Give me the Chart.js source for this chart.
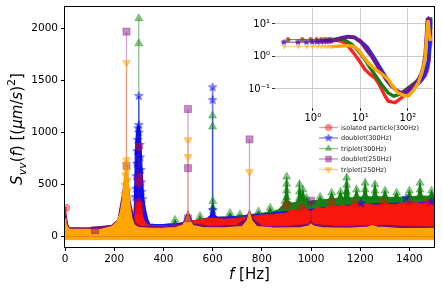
<!DOCTYPE html>
<html><head><meta charset="utf-8">
<script src="https://cdn.jsdelivr.net/npm/chart.js@4/dist/chart.umd.min.js"></script>
<style>
html,body{margin:0;padding:0;background:#fff;}
#wrap{position:relative;width:442px;height:293px;overflow:hidden;font-family:"DejaVu Sans";}
#main{position:absolute;left:0;top:0;}
#inset{position:absolute;left:250px;top:0;}
#xlab{position:absolute;left:0;width:499px;top:265px;text-align:center;font-size:15px;color:#000;white-space:nowrap;}
#ylab{position:absolute;left:17px;top:129px;width:260px;margin-left:-130px;margin-top:-12px;height:24px;line-height:24px;text-align:center;font-size:15px;transform:rotate(-90deg);white-space:nowrap;color:#000;}
#ylab sub{font-size:11px;vertical-align:-4px;line-height:0;}
#ylab sup{font-size:11px;vertical-align:7px;line-height:0;}
</style></head>
<body>
<div id="wrap">
<canvas id="main" width="442" height="293"></canvas>
<canvas id="inset" width="190" height="130"></canvas>
<div id="xlab"><i>f</i> [Hz]</div>
<div id="ylab"><i>S</i><sub><i>vv</i></sub>(<i>f</i>) [(<i>μm</i>/<i>s</i>)<sup>2</sup>]</div>
</div>
<script>
// ---------------- main chart data ----------------
const xTicks = [0,200,400,600,800,1000,1200,1400];
const yTicks = [0,500,1000,1500,2000];
const seriesNames = ['isolated particle(300Hz)','doublet(300Hz)','triplet(300Hz)','doublet(250Hz)','triplet(250Hz)'];

// triplet(250Hz) dense band (orange)
const fTri250 = [0,4,10,20,50,100,150,190,210,225,235,242,247,250,253,258,264,272,282,300,350,400,450,480,492,500,508,520,560,650,720,740,750,760,780,850,950,990,1000,1010,1050,1150,1230,1250,1270,1350,1450,1500];
const tri250Hi = [170,130,90,72,68,68,72,95,140,230,380,560,700,735,680,480,300,170,110,85,78,80,85,110,170,225,160,105,85,82,95,150,235,150,95,80,82,100,120,100,82,78,90,105,90,78,75,78];
const tri250Lo = -30;
// doublet(250Hz) dense band (purple)
const fDbl250 = [0,4,10,20,100,190,215,235,250,265,285,300,400,480,500,520,600,700,735,750,765,800,900,990,1000,1010,1100,1200,1300,1400,1500];
const dbl250Hi = [200,160,100,84,82,108,160,420,690,330,130,100,95,125,240,120,96,108,165,250,165,98,96,115,140,115,95,100,108,92,92];
// isolated particle(300Hz) dense band (red)
const fIso = [0,3,8,15,30,100,200,260,276,284,290,295,300,305,310,316,324,334,345,370,420,470,520,560,600,650,700,750,800,850,900,925,950,975,1000,1025,1050,1075,1100,1125,1150,1175,1200,1225,1250,1275,1300,1325,1350,1375,1400,1425,1450,1475,1500];
const isoHi = [285,240,130,70,55,50,55,70,110,180,260,310,330,320,260,190,140,115,105,100,105,115,150,165,175,165,175,190,205,210,225,260,245,270,240,280,265,295,285,300,290,310,300,315,305,300,320,305,310,320,310,325,315,320,320];
// doublet(300Hz) dense band (blue)
const fDbl300 = [0,10,20,200,270,278,282,286,290,294,298,302,306,310,315,320,328,336,345,380,450,520,580,592,600,608,620,700,800,900,1000,1100,1200,1300,1400,1500];
const dbl300Hi = [250,120,60,60,90,130,300,820,980,1040,1070,1050,1000,820,560,360,250,165,120,112,122,150,178,205,255,205,185,192,215,240,262,290,310,318,322,328];
// triplet(300Hz) dense band (green)
const fTri300 = [0,10,20,250,270,285,295,300,305,315,330,
  350,400,440,447,454,500,540,549,556,590,601,612,660,671,680,700,711,720,760,780,787,795,825,834,842,870,
  885,894,901,908,925,940,948,953,960,967,975,982,990,1010,1030,1037,1045,1060,1075,1084,1093,1110,1120,1128,1135,1145,1155,1170,1178,1185,1192,1205,1212,1220,1228,1245,1252,1260,1268,1285,1293,1301,1309,1325,1340,1348,1356,1375,1392,1400,1408,1425,1435,1443,1451,1470,1482,1490,1500];
const tri300Hi = [240,110,60,60,80,200,500,600,500,200,130,
  110,115,125,160,125,130,150,195,155,170,340,185,185,225,190,195,210,198,210,220,240,218,235,275,238,260,
  300,340,575,340,320,330,360,500,370,450,345,370,335,345,345,380,350,355,360,420,360,370,430,370,375,565,375,370,380,450,380,380,385,515,385,380,385,500,385,380,385,440,380,375,380,420,375,380,380,440,380,385,390,515,390,385,390,440,390];

// isolated markers + spike
const isoMarkF = [300,300,300,298,302,296,304,4,901,960,1086,1180,1294,1400,1470];
const isoMarkV = [863,572,514,330,300,270,250,275,303,280,330,320,330,320,325];
const isoSpikeF = [300], isoSpikeLo = [330], isoSpikeHi = [863];
// doublet(300Hz)
const dbl300MarkF = [300,300,297,301,295,304,293,306,291,308,289,310,288,312,286,315,600,600,600,1204,1386,1490];
const dbl300MarkV = [1351,1072,1040,1000,930,880,820,760,700,640,580,520,460,430,380,360,1435,1312,255,320,370,335];
const dbl300SpikeF = [300,600], dbl300SpikeLo = [1060,255], dbl300SpikeHi = [1351,1435];
// triplet(300Hz)
const tri300MarkF = [300,300,600,600,447,549,601,601,671,711,787,834,894,901,901,901,901,953,953,953,967,967,982,1037,1084,1084,1120,1120,1145,1145,1145,1145,1185,1185,1220,1220,1220,1260,1260,1260,1301,1301,1348,1348,1400,1400,1443,1443,1443,1490,1490];
const tri300MarkV = [2098,1857,1162,1056,160,195,340,275,225,210,240,275,340,575,505,440,375,500,430,370,450,390,370,380,420,370,430,375,565,495,430,375,450,390,515,450,390,500,440,385,440,385,420,370,440,385,515,450,390,440,385];
const tri300SpikeF = [300,600], tri300SpikeLo = [600,335], tri300SpikeHi = [2098,1162];
// doublet(250Hz)
const dbl250MarkF = [250,250,500,500,500,750,1000,122];
const dbl250MarkV = [1970,680,1226,657,175,934,344,60];
const dbl250SpikeF = [250,500,750,1000], dbl250SpikeLo = [690,240,250,140], dbl250SpikeHi = [1970,1226,934,344];
// triplet(250Hz)
const tri250MarkF = [250,250,248,252,246,254,244,256,242,258,500,500,750];
const tri250MarkV = [1671,735,690,640,590,540,490,440,400,360,928,766,623];
const tri250SpikeF = [250,500,750], tri250SpikeLo = [735,225,235], tri250SpikeHi = [1671,928,623];

// ---------------- inset data (log-log) ----------------
const insetXTicks = [1,10,100];
const insetYTicks = [0.1,1,10];
const fIsoIn = [0.3,0.6,0.9,1.2,1.5,1.8,2.1,2.4,2.7,3.0,3.6,4.7,6,7.6,10,12.4,16,20,24,28,33,38.5,45,53,63,73,100,140,180,228,260,280,292,300];
const isoIn  = [3.3,3.3,3.3,3.3,3.3,3.3,3.3,3.3,3.25,3.2,3.05,2.64,1.8,1.15,0.65,0.4,0.28,0.22,0.15,0.097,0.06,0.042,0.04,0.038,0.045,0.054,0.08,0.12,0.17,0.25,0.4,0.8,2.5,8];
const fTri300In = [0.3,0.6,0.9,1.2,1.5,1.8,2.1,2.4,2.7,3.0,3.6,4.5,6.5,9,12.4,16,20,24,28,33,38.5,50,70,101,150,194,240,268,285,295,300];
const tri300In  = [3.3,3.3,3.3,3.3,3.3,3.3,3.3,3.35,3.4,3.4,3.45,3.3,2.4,1.5,0.81,0.45,0.28,0.19,0.137,0.1,0.076,0.06,0.07,0.109,0.17,0.25,0.45,0.64,2,8,16];
const fDbl300In = [0.244,0.488,0.732,0.977,1.221,1.465,1.709,1.953,2.197,2.441,3,4,5.5,7.5,10,14,20,28,35,45,55,70,90,120,160,200,240,270,290,300];
const dbl300In  = [2.75,2.75,2.75,2.8,2.8,2.85,2.9,2.9,2.95,3.0,3.3,3.8,4.1,3.9,3.0,1.9,0.85,0.38,0.22,0.13,0.095,0.075,0.08,0.1,0.14,0.2,0.35,0.8,3,14];
const fDbl250In = [0.244,0.488,0.732,0.977,1.221,1.465,1.709,1.953,2.197,2.441,3,4,5.5,7.5,10.6,13,17,22,28,35,45,58,72,90,120,145,165,190,210,230,245,255,270,285,300];
const dbl250In  = [2.75,2.75,2.75,2.8,2.8,2.85,2.85,2.9,2.95,3.0,3.2,3.6,4.0,3.8,2.6,1.7,1.02,0.55,0.31,0.19,0.122,0.09,0.076,0.09,0.12,0.15,0.196,0.3,0.5,1.2,5,14,15,14,13];
const fTri250In = [0.25,0.5,0.75,1.0,1.25,1.5,1.75,2.0,2.25,2.5,3,4,5.5,7,9,11.5,14.6,18.5,23.7,30,38.5,48,62,80,101,130,165,200,230,250,265,280,300];
const tri250In  = [2.0,2.0,2.0,2.0,2.0,2.0,2.0,2.0,2.0,2.0,2.05,2.1,2.15,2.05,1.64,1.0,0.64,0.45,0.35,0.27,0.196,0.12,0.076,0.065,0.06,0.09,0.155,0.35,0.9,5,13,5,3];

// ---------------- styles ----------------
const C = {
  red:['rgb(250,22,10)','rgba(255,0,0,0.4)'],
  blue:['rgb(20,20,250)','rgba(0,0,255,0.5)'],
  green:['rgb(25,128,25)','rgba(0,128,0,0.45)'],
  purple:['rgb(120,10,125)','rgba(128,0,128,0.45)'],
  orange:['rgb(255,165,0)','rgba(255,165,0,0.55)']
};
function starImg(color, r){
  const s = Math.ceil(2*r+2), c = document.createElement('canvas');
  c.width = c.height = s; const g = c.getContext('2d');
  g.beginPath();
  for(let i=0;i<10;i++){const a=-Math.PI/2+i*Math.PI/5, rr=i%2?r*0.42:r; g.lineTo(s/2+rr*Math.cos(a), s/2+rr*Math.sin(a));}
  g.closePath(); g.fillStyle=color; g.fill(); g.strokeStyle=color; g.lineWidth=0.7; g.stroke();
  return c;
}
const starMain = starImg(C.blue[1], 4.6);
const starSmall = starImg(C.blue[1], 3);
const starLeg = starImg(C.blue[1], 4);

const pts = (fs, vs) => fs.map((f,i)=>({x:f, y:vs[i]}));
function spikeData(fs, lo, hi){ const d=[]; fs.forEach((f,i)=>{d.push({x:f,y:lo[i]},{x:f,y:hi[i]},{x:f,y:null});}); return d; }
function band(fs, hi, col, order){ return {type:'line', data:pts(fs,hi), borderColor:col, backgroundColor:col, borderWidth:1.2, pointRadius:0, fill:'origin', order, tension:0}; }
function spike(fs, lo, hi, col, order, w){ return {type:'line', data:spikeData(fs,lo,hi), borderColor:col, borderWidth:w||1.3, pointRadius:0, fill:false, spanGaps:false, order}; }
function marks(fs, vs, col, style, r, order, rot){ return {type:'scatter', data:pts(fs,vs), showLine:false, pointStyle:style, pointRadius:r, rotation:rot||0, pointBackgroundColor:col, pointBorderColor:col, pointBorderWidth:0.8, order}; }

const mainDatasets = [
  band(fTri300, tri300Hi, C.green[0], 90),
  band(fDbl300, dbl300Hi, C.blue[0], 80),
  band(fIso, isoHi, C.red[0], 70),
  band(fDbl250, dbl250Hi, C.purple[0], 60),
  band(fTri250, tri250Hi, C.orange[0], 50),
  {type:'line', data:fTri250.map(f=>({x:f,y:tri250Lo})), borderColor:C.orange[0], backgroundColor:C.orange[0], borderWidth:1, pointRadius:0, fill:'origin', order:50},
  spike(tri300SpikeF, tri300SpikeLo, tri300SpikeHi, 'rgba(0,128,0,0.45)', 40),
  spike(dbl300SpikeF, dbl300SpikeLo, dbl300SpikeHi, 'rgba(0,0,255,0.55)', 39, 1.6),
  spike(isoSpikeF, isoSpikeLo, isoSpikeHi, 'rgba(255,0,0,0.4)', 38, 1.6),
  spike(dbl250SpikeF, dbl250SpikeLo, dbl250SpikeHi, 'rgba(128,0,128,0.35)', 37),
  spike(tri250SpikeF, tri250SpikeLo, tri250SpikeHi, 'rgba(255,140,60,0.55)', 36),
  marks(tri300MarkF, tri300MarkV, C.green[1], 'triangle', 4.6, 20),
  marks(dbl300MarkF, dbl300MarkV, C.blue[1], starMain, 4, 19),
  marks(isoMarkF, isoMarkV, C.red[1], 'circle', 3.8, 18),
  marks(dbl250MarkF, dbl250MarkV, C.purple[1], 'rect', 5, 17),
  marks(tri250MarkF, tri250MarkV, C.orange[1], 'triangle', 4.6, 16, 180)
];

const legendItems = [
  {label:seriesNames[0], col:C.red[1], style:'circle', r:3.2},
  {label:seriesNames[1], col:C.blue[1], style:starLeg, r:3},
  {label:seriesNames[2], col:C.green[1], style:'triangle', r:3.6},
  {label:seriesNames[3], col:C.purple[1], style:'rect', r:4},
  {label:seriesNames[4], col:C.orange[1], style:'triangle', r:3.6, rot:180}
];

Chart.defaults.font.family = '"DejaVu Sans"';
Chart.defaults.color = '#000';

const framePlugin = {
  id:'frame',
  afterDraw(chart){
    const {ctx, chartArea:a} = chart;
    ctx.save(); ctx.strokeStyle='#000'; ctx.lineWidth=1;
    ctx.strokeRect(Math.round(a.left)-0.5, Math.round(a.top)-0.5, Math.round(a.right-a.left)+1, Math.round(a.bottom-a.top)+1);
    ctx.font = '6.5px "DejaVu Sans"'; ctx.textBaseline='middle'; ctx.textAlign='left';
    legendItems.forEach((it,i)=>{
      const y = 127.5 + i*10.5;
      ctx.strokeStyle = it.col; ctx.lineWidth = 1.3;
      ctx.beginPath(); ctx.moveTo(319,y); ctx.lineTo(338,y); ctx.stroke();
      ctx.fillStyle = it.col; ctx.strokeStyle = it.col; ctx.lineWidth=0.8;
      Chart.helpers.drawPoint(ctx, {pointStyle:it.style, radius:it.r, rotation:it.rot||0, borderWidth:0.8}, 328.5, y);
      ctx.fillStyle = '#222';
      ctx.fillText(it.label, 341, y+0.5);
    });
    ctx.restore();
  }
};

new Chart(document.getElementById('main'), {
  type:'line',
  data:{datasets:mainDatasets},
  options:{
    responsive:false, animation:false, events:[],
    layout:{padding:{left:0, top:7, right:8, bottom:0}},
    plugins:{legend:{display:false}, tooltip:{enabled:false}},
    scales:{
      x:{type:'linear', min:0, max:1500,
         afterBuildTicks:s=>{s.ticks = xTicks.map(v=>({value:v}));},
         afterFit:s=>{s.height=46; s.paddingLeft=0; s.paddingRight=0;},
         ticks:{font:{size:10.5}, color:'#000', padding:2, maxRotation:0, autoSkip:false, callback:v=>String(v)},
         grid:{display:true, drawOnChartArea:false, drawTicks:true, tickLength:4, color:'#000'},
         border:{display:false}},
      y:{type:'linear', min:-101, max:2207,
         afterBuildTicks:s=>{s.ticks = yTicks.map(v=>({value:v}));},
         afterFit:s=>{s.width=65; s.paddingTop=0; s.paddingBottom=0;},
         ticks:{font:{size:10.5}, color:'#000', padding:3, autoSkip:false, callback:v=>String(v)},
         grid:{display:true, drawOnChartArea:false, drawTicks:true, tickLength:4, color:'#000'},
         border:{display:false}}
    }
  },
  plugins:[framePlugin]
});

// ---------------- inset ----------------
const sup = {0.1:'10\u207B\u00B9', 1:'10\u2070', 10:'10\u00B9', 100:'10\u00B2'};
const supX = {1:'10\u2070', 10:'10\u00B9', 100:'10\u00B2'};
function insetDS(fs, vs, col, colA, style, rot, order){
  return {data:pts(fs,vs), borderColor:col, borderWidth:3.4, fill:false, tension:0, order,
    pointStyle:style, rotation:rot||0,
    pointRadius:c=> (c.raw && c.raw.x < 2.6) ? 2.3 : 0,
    pointBackgroundColor:colA, pointBorderColor:colA, pointBorderWidth:0.6,
    segment:{borderColor:c=> c.p1.parsed.x < 2.8 ? colA : col, borderWidth:c=> c.p1.parsed.x < 2.8 ? 1 : 3.4}};
}
const insetBg = {
  id:'insetBg',
  beforeDraw(chart){ const {ctx, chartArea:a} = chart; ctx.save(); ctx.fillStyle='#fff'; ctx.fillRect(a.left, a.top, a.right-a.left, a.bottom-a.top); ctx.restore(); }
};
new Chart(document.getElementById('inset'), {
  type:'line',
  data:{datasets:[
    insetDS(fIsoIn, isoIn, 'rgb(255,35,35)', 'rgba(255,0,0,0.5)', 'circle', 0, 50),
    insetDS(fTri300In, tri300In, 'rgb(20,125,20)', 'rgba(0,128,0,0.5)', 'triangle', 0, 40),
    insetDS(fDbl300In, dbl300In, 'rgb(35,35,255)', 'rgba(0,0,255,0.45)', starSmall, 0, 30),
    insetDS(fDbl250In, dbl250In, 'rgb(115,25,135)', 'rgba(128,0,128,0.45)', 'rect', 0, 20),
    insetDS(fTri250In, tri250In, 'rgb(255,165,0)', 'rgba(255,165,0,0.55)', 'triangle', 180, 10)
  ]},
  options:{
    responsive:false, animation:false, events:[],
    layout:{padding:{left:0, top:8, right:7, bottom:0}},
    plugins:{legend:{display:false}, tooltip:{enabled:false}},
    scales:{
      x:{type:'logarithmic', min:0.16, max:336,
         afterBuildTicks:s=>{s.ticks = insetXTicks.map(v=>({value:v}));},
         afterFit:s=>{s.height=22; s.paddingLeft=0; s.paddingRight=0;},
         ticks:{font:{size:10}, color:'#000', padding:1, maxRotation:0, autoSkip:false, callback:v=>supX[v]},
         grid:{color:'#cccccc', lineWidth:1, drawTicks:true, tickLength:3, tickColor:'#333'},
         border:{display:false}},
      y:{type:'logarithmic', min:0.026, max:31,
         afterBuildTicks:s=>{s.ticks = insetYTicks.map(v=>({value:v}));},
         afterFit:s=>{s.width=25; s.paddingTop=0; s.paddingBottom=0;},
         ticks:{font:{size:10}, color:'#000', padding:2, autoSkip:false, callback:v=>sup[v]},
         grid:{color:'#cccccc', lineWidth:1, drawTicks:true, tickLength:3, tickColor:'#333'},
         border:{display:false}}
    }
  },
  plugins:[insetBg]
});
</script>
</body></html>
